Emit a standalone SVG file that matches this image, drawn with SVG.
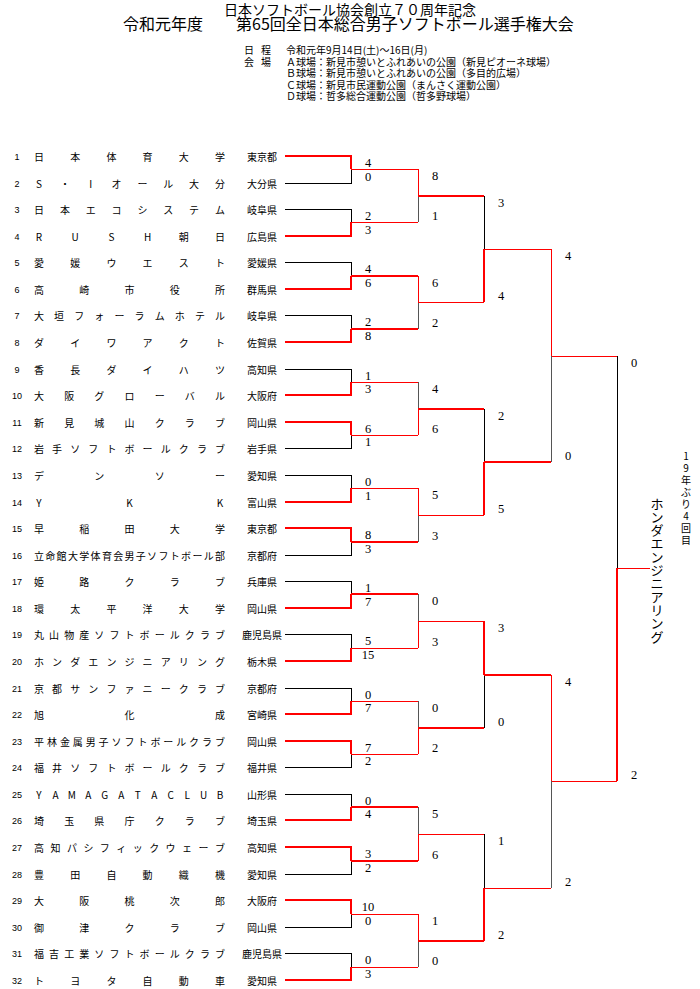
<svg xmlns="http://www.w3.org/2000/svg" width="700" height="989" viewBox="0 0 700 989">
<style>
text{font-family:"Noto Sans CJK JP","Noto Sans",sans-serif;fill:#000}
.h1{font-size:14px;text-anchor:middle}
.h2{font-size:16px}
.i{font-size:10px}
.n{font-size:9px;text-anchor:middle;font-family:"Liberation Sans","Noto Sans CJK JP",sans-serif}
.t{font-size:10px;text-anchor:middle}
.p{font-size:10px;text-anchor:middle}
.s{font-size:12.5px;text-anchor:middle;font-family:"Liberation Serif",serif}
.v{font-size:13px;text-anchor:middle}
.v2{font-size:10px;text-anchor:middle}
.k{stroke:#000;stroke-width:1;fill:none}
.g{stroke:#555;stroke-width:1;fill:none}
.r{stroke:#f00;stroke-width:1;fill:none}
.R{stroke:#f00;stroke-width:2;fill:none}
</style>
<g id="header">
<text class="h1" x="350" y="14.5">日本ソフトボール協会創立７０周年記念</text>
<text class="h2" x="123" y="30">令和元年度</text>
<text class="h2" x="236" y="30">第65回全日本総合男子ソフトボール選手権大会</text>
<text class="i" x="249" y="54" text-anchor="middle">日</text>
<text class="i" x="266" y="54" text-anchor="middle">程</text>
<text class="i" x="286" y="54">令和元年9月14日(土)～16日(月)</text>
<text class="i" x="249" y="65.5" text-anchor="middle">会</text>
<text class="i" x="266" y="65.5" text-anchor="middle">場</text>
<text class="i" x="286" y="65.5">Ａ球場：新見市憩いとふれあいの公園（新見ピオーネ球場）</text>
<text class="i" x="286" y="77">Ｂ球場：新見市憩いとふれあいの公園（多目的広場）</text>
<text class="i" x="286" y="88.5">Ｃ球場：新見市民運動公園（まんさく運動公園）</text>
<text class="i" x="286" y="100">Ｄ球場：哲多総合運動公園（哲多野球場）</text>
</g>
<g id="team-1"><text class="n" x="17" y="160">1</text><text class="t" x="39 75.2 111.4 147.6 183.8 220" y="160.5">日本体育大学</text><text class="p" x="262" y="160.5">東京都</text></g>
<g id="team-2"><text class="n" x="17" y="187">2</text><text class="t" x="39 64.9 90.7 116.6 142.4 168.3 194.1 220" y="187.5">S・Iオール大分</text><text class="p" x="262" y="187.5">大分県</text></g>
<g id="team-3"><text class="n" x="17" y="213">3</text><text class="t" x="39 64.9 90.7 116.6 142.4 168.3 194.1 220" y="213.5">日本エコシステム</text><text class="p" x="262" y="213.5">岐阜県</text></g>
<g id="team-4"><text class="n" x="17" y="240">4</text><text class="t" x="39 75.2 111.4 147.6 183.8 220" y="240.5">RUSH朝日</text><text class="p" x="262" y="240.5">広島県</text></g>
<g id="team-5"><text class="n" x="17" y="266">5</text><text class="t" x="39 75.2 111.4 147.6 183.8 220" y="266.5">愛媛ウエスト</text><text class="p" x="262" y="266.5">愛媛県</text></g>
<g id="team-6"><text class="n" x="17" y="293">6</text><text class="t" x="39 84.3 129.5 174.8 220" y="293.5">高崎市役所</text><text class="p" x="262" y="293.5">群馬県</text></g>
<g id="team-7"><text class="n" x="17" y="319">7</text><text class="t" x="39 59.1 79.2 99.3 119.4 139.6 159.7 179.8 199.9 220" y="319.5">大垣フォーラムホテル</text><text class="p" x="262" y="319.5">岐阜県</text></g>
<g id="team-8"><text class="n" x="17" y="346">8</text><text class="t" x="39 75.2 111.4 147.6 183.8 220" y="346.5">ダイワアクト</text><text class="p" x="262" y="346.5">佐賀県</text></g>
<g id="team-9"><text class="n" x="17" y="373">9</text><text class="t" x="39 75.2 111.4 147.6 183.8 220" y="373.5">香長ダイハツ</text><text class="p" x="262" y="373.5">高知県</text></g>
<g id="team-10"><text class="n" x="17" y="399">10</text><text class="t" x="39 69.2 99.3 129.5 159.7 189.8 220" y="399.5">大阪グローバル</text><text class="p" x="262" y="399.5">大阪府</text></g>
<g id="team-11"><text class="n" x="17" y="426">11</text><text class="t" x="39 69.2 99.3 129.5 159.7 189.8 220" y="426.5">新見城山クラブ</text><text class="p" x="262" y="426.5">岡山県</text></g>
<g id="team-12"><text class="n" x="17" y="452">12</text><text class="t" x="39 57.1 75.2 93.3 111.4 129.5 147.6 165.7 183.8 201.9 220" y="452.5">岩手ソフトボールクラブ</text><text class="p" x="262" y="452.5">岩手県</text></g>
<g id="team-13"><text class="n" x="17" y="479">13</text><text class="t" x="39 99.3 159.7 220" y="479.5">デンソー</text><text class="p" x="262" y="479.5">愛知県</text></g>
<g id="team-14"><text class="n" x="17" y="506">14</text><text class="t" x="39 129.5 220" y="506.5">YKK</text><text class="p" x="262" y="506.5">富山県</text></g>
<g id="team-15"><text class="n" x="17" y="532">15</text><text class="t" x="39 84.3 129.5 174.8 220" y="532.5">早稲田大学</text><text class="p" x="262" y="532.5">東京都</text></g>
<g id="team-16"><text class="n" x="17" y="559">16</text><text class="t" x="39 50.3 61.6 72.9 84.3 95.6 106.9 118.2 129.5 140.8 152.1 163.4 174.8 186.1 197.4 208.7 220" y="559.5">立命館大学体育会男子ソフトボール部</text><text class="p" x="262" y="559.5">京都府</text></g>
<g id="team-17"><text class="n" x="17" y="585">17</text><text class="t" x="39 84.3 129.5 174.8 220" y="585.5">姫路クラブ</text><text class="p" x="262" y="585.5">兵庫県</text></g>
<g id="team-18"><text class="n" x="17" y="612">18</text><text class="t" x="39 75.2 111.4 147.6 183.8 220" y="612.5">環太平洋大学</text><text class="p" x="262" y="612.5">岡山県</text></g>
<g id="team-19"><text class="n" x="17" y="638">19</text><text class="t" x="39 54.1 69.2 84.3 99.3 114.4 129.5 144.6 159.7 174.8 189.8 204.9 220" y="638.5">丸山物産ソフトボールクラブ</text><text class="p" x="262" y="638.5">鹿児島県</text></g>
<g id="team-20"><text class="n" x="17" y="665">20</text><text class="t" x="39 57.1 75.2 93.3 111.4 129.5 147.6 165.7 183.8 201.9 220" y="665.5">ホンダエンジニアリング</text><text class="p" x="262" y="665.5">栃木県</text></g>
<g id="team-21"><text class="n" x="17" y="692">21</text><text class="t" x="39 57.1 75.2 93.3 111.4 129.5 147.6 165.7 183.8 201.9 220" y="692.5">京都サンファニークラブ</text><text class="p" x="262" y="692.5">京都府</text></g>
<g id="team-22"><text class="n" x="17" y="718">22</text><text class="t" x="39 129.5 220" y="718.5">旭化成</text><text class="p" x="262" y="718.5">宮崎県</text></g>
<g id="team-23"><text class="n" x="17" y="745">23</text><text class="t" x="39 51.9 64.9 77.8 90.7 103.6 116.6 129.5 142.4 155.4 168.3 181.2 194.1 207.1 220" y="745.5">平林金属男子ソフトボールクラブ</text><text class="p" x="262" y="745.5">岡山県</text></g>
<g id="team-24"><text class="n" x="17" y="771">24</text><text class="t" x="39 57.1 75.2 93.3 111.4 129.5 147.6 165.7 183.8 201.9 220" y="771.5">福井ソフトボールクラブ</text><text class="p" x="262" y="771.5">福井県</text></g>
<g id="team-25"><text class="n" x="17" y="798">25</text><text class="t" x="39 55.5 71.9 88.4 104.8 121.3 137.7 154.2 170.6 187.1 203.5 220" y="798.5">YAMAGATACLUB</text><text class="p" x="262" y="798.5">山形県</text></g>
<g id="team-26"><text class="n" x="17" y="824">26</text><text class="t" x="39 69.2 99.3 129.5 159.7 189.8 220" y="824.5">埼玉県庁クラブ</text><text class="p" x="262" y="824.5">埼玉県</text></g>
<g id="team-27"><text class="n" x="17" y="851">27</text><text class="t" x="39 55.5 71.9 88.4 104.8 121.3 137.7 154.2 170.6 187.1 203.5 220" y="851.5">高知パシフィックウェーブ</text><text class="p" x="262" y="851.5">高知県</text></g>
<g id="team-28"><text class="n" x="17" y="878">28</text><text class="t" x="39 75.2 111.4 147.6 183.8 220" y="878.5">豊田自動織機</text><text class="p" x="262" y="878.5">愛知県</text></g>
<g id="team-29"><text class="n" x="17" y="904">29</text><text class="t" x="39 84.3 129.5 174.8 220" y="904.5">大阪桃次郎</text><text class="p" x="262" y="904.5">大阪府</text></g>
<g id="team-30"><text class="n" x="17" y="931">30</text><text class="t" x="39 84.3 129.5 174.8 220" y="931.5">御津クラブ</text><text class="p" x="262" y="931.5">岡山県</text></g>
<g id="team-31"><text class="n" x="17" y="957">31</text><text class="t" x="39 54.1 69.2 84.3 99.3 114.4 129.5 144.6 159.7 174.8 189.8 204.9 220" y="957.5">福吉工業ソフトボールクラブ</text><text class="p" x="262" y="957.5">鹿児島県</text></g>
<g id="team-32"><text class="n" x="17" y="984">32</text><text class="t" x="39 75.2 111.4 147.6 183.8 220" y="984.5">トヨタ自動車</text><text class="p" x="262" y="984.5">愛知県</text></g>
<g id="connectors" shape-rendering="crispEdges">
<path class="R" d="M285 156H351V169M285 236H351V222M285 289H351V276M285 342H351V329M285 395H351V382M285 422H351V435M285 502H351V488M285 528H351V542M285 608H351V594M285 661H351V648M285 714H351V701M285 741H351V754M285 820H351V807M285 847H351V861M285 900H351V914M285 980H351V967"/>
<path class="k" d="M285 183H351V169M285 209H351V222M285 262H351V276M285 315H351V329M285 369H351V382M285 448H351V435M285 475H351V488M285 555H351V542M285 581H351V594M285 634H351V648M285 688H351V701M285 767H351V754M285 794H351V807M285 874H351V861M285 927H351V914M285 953H351V967"/>
<path class="r" d="M351 169H418M351 222H418M351 382H418M351 435H418M351 488H418M351 648H418M351 701H418M351 754H418M351 914H418M351 967H418"/>
<path class="R" d="M351 276H418M351 329H418M351 542H418M351 594H418M351 807H418M351 861H418"/>
<path class="r" d="M418 169V196M418 276V302M418 435V409M418 488V515M418 648V621M418 754V728M418 861V834M418 914V941"/>
<path class="g" d="M418 196V222M418 302V329M418 382V409M418 515V542M418 594V621M418 701V728M418 807V834M418 941V967"/>
<path class="R" d="M418 196H484M418 409H484M418 728H484M418 941H484"/>
<path class="r" d="M418 302H484M418 515H484M418 621H484M418 834H484"/>
<path class="R" d="M484 302V249M484 515V462M484 621V675M484 941V888"/>
<path class="k" d="M484 196V249M484 409V462M484 675V728M484 834V888"/>
<path class="r" d="M484 249H551M484 888H551"/>
<path class="R" d="M484 462H551M484 675H551"/>
<path class="r" d="M551 249V356M551 675V781M551 356H617M551 781H617"/>
<path class="g" d="M551 356V462M551 781V888"/>
<path class="R" d="M617 781V568"/>
<path class="k" d="M617 356V568"/>
<path class="r" d="M617 568H650"/>
</g>
<g id="scores">
<text class="s" x="368" y="167">4</text><text class="s" x="368" y="180.5">0</text>
<text class="s" x="368" y="220">2</text><text class="s" x="368" y="233.5">3</text>
<text class="s" x="368" y="273">4</text><text class="s" x="368" y="286.5">6</text>
<text class="s" x="368" y="326">2</text><text class="s" x="368" y="339.5">8</text>
<text class="s" x="368" y="380">1</text><text class="s" x="368" y="392.5">3</text>
<text class="s" x="368" y="433">6</text><text class="s" x="368" y="445.5">1</text>
<text class="s" x="368" y="486">0</text><text class="s" x="368" y="499.5">1</text>
<text class="s" x="368" y="539">8</text><text class="s" x="368" y="552.5">3</text>
<text class="s" x="368" y="592">1</text><text class="s" x="368" y="605.5">7</text>
<text class="s" x="368" y="645">5</text><text class="s" x="368" y="658.5">15</text>
<text class="s" x="368" y="699">0</text><text class="s" x="368" y="711.5">7</text>
<text class="s" x="368" y="752">7</text><text class="s" x="368" y="764.5">2</text>
<text class="s" x="368" y="805">0</text><text class="s" x="368" y="817.5">4</text>
<text class="s" x="368" y="858">3</text><text class="s" x="368" y="871.5">2</text>
<text class="s" x="368" y="911">10</text><text class="s" x="368" y="924.5">0</text>
<text class="s" x="368" y="964">0</text><text class="s" x="368" y="977.5">3</text>
<text class="s" x="435" y="180">8</text><text class="s" x="435" y="219.5">1</text>
<text class="s" x="435" y="287">6</text><text class="s" x="435" y="326.5">2</text>
<text class="s" x="435" y="393">4</text><text class="s" x="435" y="432.5">6</text>
<text class="s" x="435" y="499">5</text><text class="s" x="435" y="539.5">3</text>
<text class="s" x="435" y="605">0</text><text class="s" x="435" y="645.5">3</text>
<text class="s" x="435" y="712">0</text><text class="s" x="435" y="751.5">2</text>
<text class="s" x="435" y="818">5</text><text class="s" x="435" y="858.5">6</text>
<text class="s" x="435" y="925">1</text><text class="s" x="435" y="964.5">0</text>
<text class="s" x="501" y="207">3</text><text class="s" x="501" y="299.5">4</text>
<text class="s" x="501" y="420">2</text><text class="s" x="501" y="512.5">5</text>
<text class="s" x="501" y="632">3</text><text class="s" x="501" y="725.5">0</text>
<text class="s" x="501" y="845">1</text><text class="s" x="501" y="938.5">2</text>
<text class="s" x="568" y="260">4</text><text class="s" x="568" y="459.5">0</text>
<text class="s" x="568" y="686">4</text><text class="s" x="568" y="885.5">2</text>
<text class="s" x="634" y="367">0</text><text class="s" x="634" y="778.5">2</text>
</g>
<g id="champion">
<text class="v" x="657 657 657 657 657 657 657 657 657 657 657" y="508.5 521.8 535.1 548.4 561.7 575 588.3 601.6 614.9 628.2 641.5">ホンダエンジニアリング</text>
<text class="v2" x="686 686 686 686 686 686 686 686" y="460 472 484 496 508 520 532 544">19年ぶり4回目</text>
</g>
</svg>
